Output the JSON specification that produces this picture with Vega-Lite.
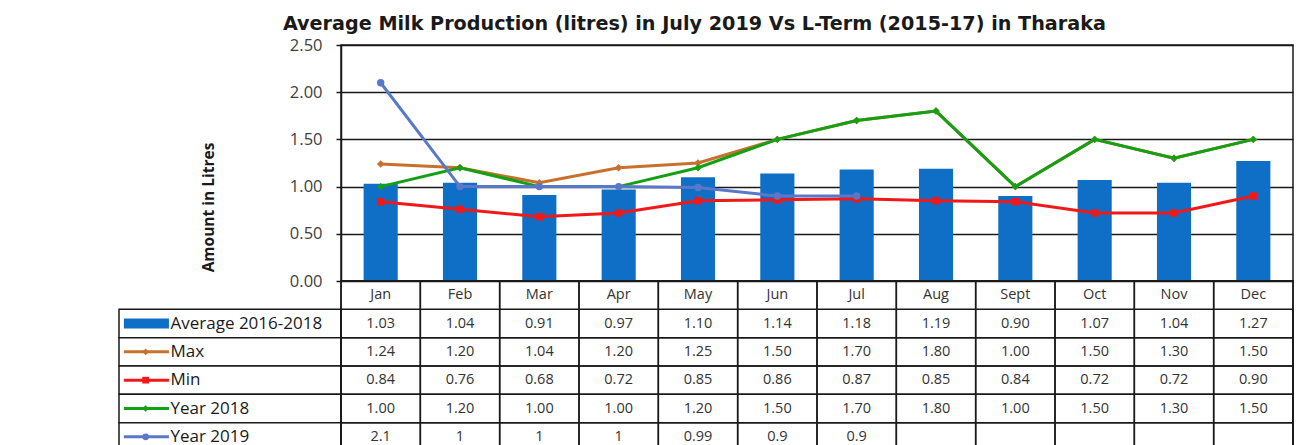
{
  "$schema": "https://vega.github.io/schema/vega-lite/v6.json",
  "padding": {"left": 118, "top": 15, "right": 0, "bottom": 0},
  "background": "white",
  "title": {"text": "Average Milk Production (litres) in  July 2019 Vs L-Term (2015-17) in Tharaka", "font": "DejaVu Sans", "fontWeight": "bold", "fontSize": 19.2, "color": "#1a1a1a", "anchor": "middle", "dx": -12, "offset": 2},
  "config": {"view": {"stroke": null}, "font": "Open Sans"},
  "columns": 2,
  "spacing": 0,
  "bounds": "flush",
  "datasets": {
    "milk": [
      {"month": "Jan", "series": "Average 2016-2018", "value": 1.03},
      {"month": "Feb", "series": "Average 2016-2018", "value": 1.04},
      {"month": "Mar", "series": "Average 2016-2018", "value": 0.91},
      {"month": "Apr", "series": "Average 2016-2018", "value": 0.97},
      {"month": "May", "series": "Average 2016-2018", "value": 1.10},
      {"month": "Jun", "series": "Average 2016-2018", "value": 1.14},
      {"month": "Jul", "series": "Average 2016-2018", "value": 1.18},
      {"month": "Aug", "series": "Average 2016-2018", "value": 1.19},
      {"month": "Sept", "series": "Average 2016-2018", "value": 0.90},
      {"month": "Oct", "series": "Average 2016-2018", "value": 1.07},
      {"month": "Nov", "series": "Average 2016-2018", "value": 1.04},
      {"month": "Dec", "series": "Average 2016-2018", "value": 1.27},
      {"month": "Jan", "series": "Max", "value": 1.24},
      {"month": "Feb", "series": "Max", "value": 1.20},
      {"month": "Mar", "series": "Max", "value": 1.04},
      {"month": "Apr", "series": "Max", "value": 1.20},
      {"month": "May", "series": "Max", "value": 1.25},
      {"month": "Jun", "series": "Max", "value": 1.50},
      {"month": "Jul", "series": "Max", "value": 1.70},
      {"month": "Aug", "series": "Max", "value": 1.80},
      {"month": "Sept", "series": "Max", "value": 1.00},
      {"month": "Oct", "series": "Max", "value": 1.50},
      {"month": "Nov", "series": "Max", "value": 1.30},
      {"month": "Dec", "series": "Max", "value": 1.50},
      {"month": "Jan", "series": "Min", "value": 0.84},
      {"month": "Feb", "series": "Min", "value": 0.76},
      {"month": "Mar", "series": "Min", "value": 0.68},
      {"month": "Apr", "series": "Min", "value": 0.72},
      {"month": "May", "series": "Min", "value": 0.85},
      {"month": "Jun", "series": "Min", "value": 0.86},
      {"month": "Jul", "series": "Min", "value": 0.87},
      {"month": "Aug", "series": "Min", "value": 0.85},
      {"month": "Sept", "series": "Min", "value": 0.84},
      {"month": "Oct", "series": "Min", "value": 0.72},
      {"month": "Nov", "series": "Min", "value": 0.72},
      {"month": "Dec", "series": "Min", "value": 0.90},
      {"month": "Jan", "series": "Year 2018", "value": 1.00},
      {"month": "Feb", "series": "Year 2018", "value": 1.20},
      {"month": "Mar", "series": "Year 2018", "value": 1.00},
      {"month": "Apr", "series": "Year 2018", "value": 1.00},
      {"month": "May", "series": "Year 2018", "value": 1.20},
      {"month": "Jun", "series": "Year 2018", "value": 1.50},
      {"month": "Jul", "series": "Year 2018", "value": 1.70},
      {"month": "Aug", "series": "Year 2018", "value": 1.80},
      {"month": "Sept", "series": "Year 2018", "value": 1.00},
      {"month": "Oct", "series": "Year 2018", "value": 1.50},
      {"month": "Nov", "series": "Year 2018", "value": 1.30},
      {"month": "Dec", "series": "Year 2018", "value": 1.50},
      {"month": "Jan", "series": "Year 2019", "value": 2.1},
      {"month": "Feb", "series": "Year 2019", "value": 1},
      {"month": "Mar", "series": "Year 2019", "value": 1},
      {"month": "Apr", "series": "Year 2019", "value": 1},
      {"month": "May", "series": "Year 2019", "value": 0.99},
      {"month": "Jun", "series": "Year 2019", "value": 0.9},
      {"month": "Jul", "series": "Year 2019", "value": 0.9}
    ]
  },
  "concat": [
    {
      "width": 222,
      "height": 236,
      "data": {"values": [{}]},
      "mark": "text",
      "encoding": {"text": {"value": ""}}
    },
    {
      "width": 952,
      "height": 236,
      "data": {"name": "milk"},
      "view": {"stroke": "#1a1a1a", "strokeWidth": 1.5},
      "encoding": {
        "x": {"field": "month", "type": "nominal", "scale": {"domain": ["Jan", "Feb", "Mar", "Apr", "May", "Jun", "Jul", "Aug", "Sept", "Oct", "Nov", "Dec"], "paddingInner": 0, "paddingOuter": 0}, "axis": null},
        "y": {
          "field": "value", "type": "quantitative",
          "scale": {"domain": [0, 2.5], "nice": false},
          "axis": {
            "values": [0, 0.5, 1, 1.5, 2, 2.5], "format": ".2f",
            "title": "Amount in Litres", "titleFont": "Open Sans", "titleFontWeight": "bold", "titleFontSize": 15.5, "titleColor": "#1a1a1a", "titlePadding": 73, "titleY": 162,
            "labelFont": "Open Sans", "labelFontSize": 16.5, "labelColor": "#404040", "labelPadding": 14,
            "tickSize": 5, "tickColor": "#1a1a1a", "tickWidth": 1.5,
            "domainColor": "#1a1a1a", "domainWidth": 1.5,
            "grid": true, "gridColor": "#1a1a1a", "gridWidth": 1.5, "gridOpacity": 1
          }
        }
      },
      "layer": [
        {
          "transform": [{"filter": "datum.series === 'Average 2016-2018'"}],
          "mark": {"type": "bar", "color": "#0F6FC6", "width": {"band": 0.43}}
        },
        {
          "transform": [{"filter": "datum.series !== 'Average 2016-2018'"}],
          "mark": {"type": "line", "strokeWidth": 3},
          "encoding": {
            "color": {"field": "series", "type": "nominal", "scale": {"domain": ["Average 2016-2018", "Max", "Min", "Year 2018", "Year 2019"], "range": ["#0F6FC6", "#C8702C", "#F01818", "#14A014", "#5A78C8"]}, "legend": null}
          }
        },
        {
          "transform": [{"filter": "datum.series !== 'Average 2016-2018'"}],
          "mark": {"type": "point", "filled": true, "size": 55, "opacity": 1},
          "encoding": {
            "color": {"field": "series", "type": "nominal", "scale": {"domain": ["Average 2016-2018", "Max", "Min", "Year 2018", "Year 2019"], "range": ["#0F6FC6", "#C8702C", "#F01818", "#14A014", "#5A78C8"]}, "legend": null},
            "shape": {"field": "series", "type": "nominal", "scale": {"domain": ["Average 2016-2018", "Max", "Min", "Year 2018", "Year 2019"], "range": ["square", "diamond", "square", "diamond", "circle"]}, "legend": null}
          }
        }
      ]
    },
    {
      "width": 222,
      "height": 170,
      "data": {"name": "milk"},
      "transform": [{"aggregate": [{"op": "count", "as": "n"}], "groupby": ["series"]}],
      "encoding": {
        "y": {"field": "series", "type": "nominal", "scale": {"domain": ["hdr", "Average 2016-2018", "Max", "Min", "Year 2018", "Year 2019"], "paddingInner": 0, "paddingOuter": 0}, "axis": null}
      },
      "layer": [
        {"mark": {"type": "rect", "fill": "white", "stroke": "#1a1a1a", "strokeWidth": 1.5}},
        {
          "mark": {"type": "rule", "strokeCap": "butt"},
          "encoding": {
            "x": {"datum": 0.022, "type": "quantitative", "scale": {"domain": [0, 1]}, "axis": null},
            "x2": {"datum": 0.225},
            "color": {"field": "series", "type": "nominal", "scale": {"domain": ["Average 2016-2018", "Max", "Min", "Year 2018", "Year 2019"], "range": ["#0F6FC6", "#C8702C", "#F01818", "#14A014", "#5A78C8"]}, "legend": null},
            "strokeWidth": {"condition": {"test": "datum.series === 'Average 2016-2018'", "value": 10}, "value": 3}
          }
        },
        {
          "transform": [{"filter": "datum.series !== 'Average 2016-2018'"}],
          "mark": {"type": "point", "filled": true, "size": 45, "opacity": 1},
          "encoding": {
            "x": {"datum": 0.12, "type": "quantitative"},
            "color": {"field": "series", "type": "nominal", "scale": {"domain": ["Average 2016-2018", "Max", "Min", "Year 2018", "Year 2019"], "range": ["#0F6FC6", "#C8702C", "#F01818", "#14A014", "#5A78C8"]}, "legend": null},
            "shape": {"field": "series", "type": "nominal", "scale": {"domain": ["Average 2016-2018", "Max", "Min", "Year 2018", "Year 2019"], "range": ["square", "circle", "square", "circle", "circle"]}, "legend": null}
          }
        },
        {
          "mark": {"type": "text", "align": "left", "font": "Open Sans", "fontSize": 17, "color": "#1a1a1a"},
          "encoding": {
            "x": {"datum": 0.232, "type": "quantitative"},
            "text": {"field": "series", "type": "nominal"}
          }
        }
      ]
    },
    {
      "width": 952,
      "height": 170,
      "data": {"name": "milk"},
      "view": {"stroke": "#1a1a1a", "strokeWidth": 1.5},
      "layer": [
        {
          "transform": [{"filter": "datum.series === 'Average 2016-2018'"}],
          "mark": {"type": "rect", "fill": "white", "fillOpacity": 0, "stroke": "#1a1a1a", "strokeWidth": 1.5},
          "encoding": {
            "x": {"field": "month", "type": "nominal", "scale": {"domain": ["Jan", "Feb", "Mar", "Apr", "May", "Jun", "Jul", "Aug", "Sept", "Oct", "Nov", "Dec"], "paddingInner": 0, "paddingOuter": 0}, "axis": null}
          }
        },
        {
          "transform": [{"aggregate": [{"op": "count", "as": "n"}], "groupby": ["series"]}],
          "mark": {"type": "rect", "fill": "white", "fillOpacity": 0, "stroke": "#1a1a1a", "strokeWidth": 1.5},
          "encoding": {
            "y": {"field": "series", "type": "nominal", "scale": {"domain": ["hdr", "Average 2016-2018", "Max", "Min", "Year 2018", "Year 2019"], "paddingInner": 0, "paddingOuter": 0}, "axis": null}
          }
        },
        {
          "transform": [{"filter": "datum.series === 'Average 2016-2018'"}],
          "mark": {"type": "text", "font": "Open Sans", "fontSize": 14.5, "color": "#333333"},
          "encoding": {
            "x": {"field": "month", "type": "nominal", "axis": null},
            "y": {"datum": "hdr", "type": "nominal", "axis": null},
            "text": {"field": "month", "type": "nominal"}
          }
        },
        {
          "transform": [{"filter": "datum.series !== 'Year 2019'"}],
          "mark": {"type": "text", "font": "Open Sans", "fontSize": 14.5, "color": "#333333"},
          "encoding": {
            "x": {"field": "month", "type": "nominal", "axis": null},
            "y": {"field": "series", "type": "nominal", "axis": null},
            "text": {"field": "value", "type": "quantitative", "format": ".2f"}
          }
        },
        {
          "transform": [{"filter": "datum.series === 'Year 2019'"}],
          "mark": {"type": "text", "font": "Open Sans", "fontSize": 14.5, "color": "#333333"},
          "encoding": {
            "x": {"field": "month", "type": "nominal", "axis": null},
            "y": {"field": "series", "type": "nominal", "axis": null},
            "text": {"field": "value", "type": "nominal"}
          }
        }
      ]
    }
  ]
}
